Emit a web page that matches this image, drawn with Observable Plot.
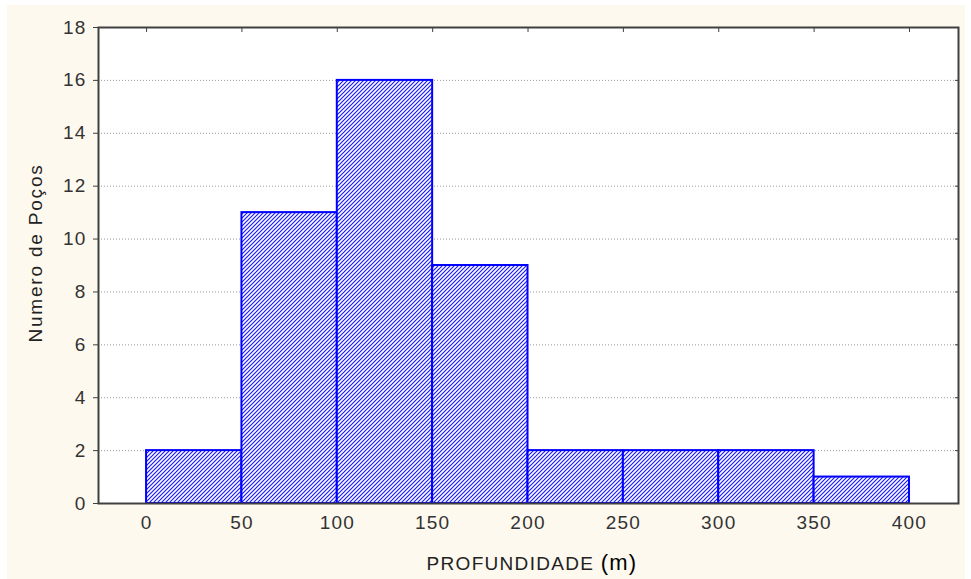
<!DOCTYPE html>
<html>
<head>
<meta charset="utf-8">
<script src="https://cdn.jsdelivr.net/npm/d3@7"></script>
<script src="https://cdn.jsdelivr.net/npm/@observablehq/plot@0.6"></script>
<style>
  html, body { margin: 0; padding: 0; background: #ffffff; }
  #wrap { position: absolute; left: 7px; top: 5px; width: 958px; height: 574px; background: #FEF9EE; }
  #wrap svg { display: block; }
</style>
</head>
<body>
<div id="wrap"></div>
<script>
const binStart = [0, 50, 100, 150, 200, 250, 300, 350];
const binEnd   = [50, 100, 150, 200, 250, 300, 350, 400];
const counts   = [2, 11, 16, 9, 2, 2, 2, 1];
const xTicks   = [0, 50, 100, 150, 200, 250, 300, 350, 400];
const yTicks   = [0, 2, 4, 6, 8, 10, 12, 14, 16, 18];
const xLabel   = "PROFUNDIDADE";
const xUnit    = "(m)";
const yLabel   = "Numero de Poços";

const bins = binStart.map((s, i) => ({x1: s, x2: binEnd[i], count: counts[i]}));

const W = 958, H = 574;
const font = "'Liberation Sans', Arial, sans-serif";

const chart = Plot.plot({
  width: W,
  height: H,
  marginLeft: 91,
  marginRight: 7,
  marginTop: 22,
  marginBottom: 76,
  style: {fontFamily: font, fontSize: "19px", background: "transparent", color: "#333", letterSpacing: "1.2px"},
  x: {domain: [-25.2, 425.7], ticks: xTicks},
  y: {domain: [0, 18], ticks: yTicks},
  marks: [
    Plot.frame({fill: "white", stroke: null}),
    Plot.gridY(yTicks.filter(d => d > 0 && d < 18), {stroke: "#999", strokeOpacity: 1, strokeDasharray: "1,2"}),
    Plot.rectY(bins, {x1: "x1", x2: "x2", y: "count", fill: "url(#hatch)", stroke: "#0000ff", strokeWidth: 2, inset: 0}),
    Plot.frame({stroke: "#404040", strokeWidth: 2}),
    Plot.axisY({anchor: "left", ticks: yTicks, tickSize: 5, tickPadding: 7, label: null, stroke: "#404040"}),
    Plot.axisY({anchor: "right", ticks: yTicks, tickSize: -4, tickFormat: () => "", label: null, stroke: "#404040"}),
    Plot.axisX({anchor: "bottom", ticks: xTicks, tickSize: 0, tickPadding: 12, label: null}),
    Plot.axisX({anchor: "top", ticks: xTicks, tickSize: -4, tickFormat: () => "", label: null, stroke: "#404040"})
  ]
});

const svg = d3.select(chart.tagName === "svg" ? chart : chart.querySelector("svg"));
const defs = svg.insert("defs", ":first-child");
const pat = defs.append("pattern")
  .attr("id", "hatch")
  .attr("patternUnits", "userSpaceOnUse")
  .attr("width", 4).attr("height", 4);
pat.append("rect").attr("width", 4).attr("height", 4).attr("fill", "white");
pat.append("path")
  .attr("d", "M-1,1 l2,-2 M0,4 l4,-4 M3,5 l2,-2")
  .attr("fill", "none")
  .attr("stroke", "#1a1aff").attr("stroke-width", 1.2);

// x axis title
const xt = svg.append("text")
  .attr("x", 525).attr("y", 565)
  .attr("text-anchor", "middle")
  .attr("font-family", font)
  .attr("fill", "#222");
xt.append("tspan").attr("font-size", "19px").attr("letter-spacing", "1.3px").text(xLabel + " ");
xt.append("tspan").attr("font-size", "22px").attr("fill", "#000").text(xUnit);

// y axis title
svg.append("text")
  .attr("transform", "translate(35,248) rotate(-90)")
  .attr("text-anchor", "middle")
  .attr("font-family", font)
  .attr("font-size", "19px")
  .attr("letter-spacing", "1.8px")
  .attr("fill", "#222")
  .text(yLabel);

document.getElementById("wrap").appendChild(chart);
</script>
</body>
</html>
